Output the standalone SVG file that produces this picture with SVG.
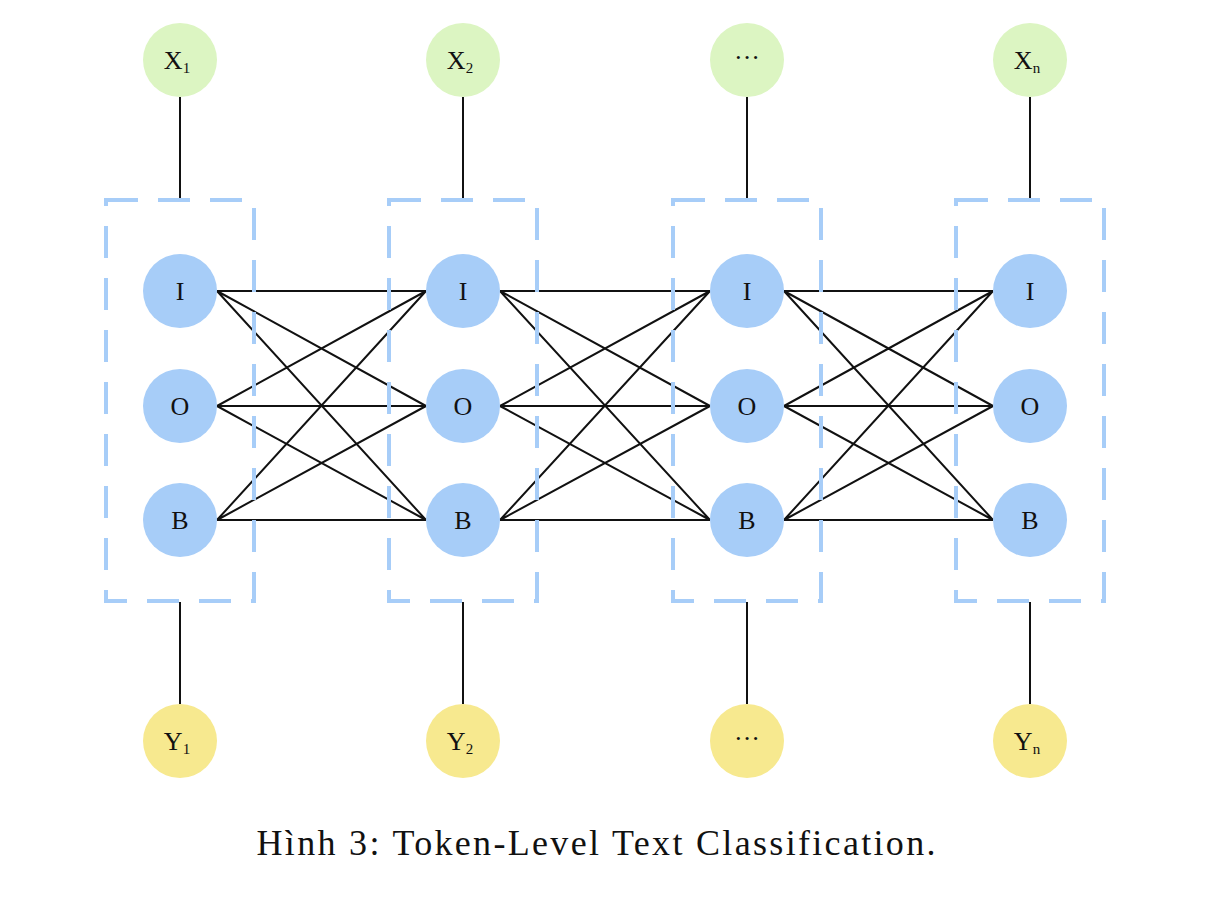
<svg xmlns="http://www.w3.org/2000/svg" width="1206" height="904" viewBox="0 0 1206 904">
<style>
.in{fill:#dcf5c2}
.st{fill:#a7cdf8}
.out{fill:#f7e98f}
.box{fill:none;stroke:#a7cdf8;stroke-width:4;stroke-dasharray:32 20}
.lbl{font-family:"Liberation Serif",serif;font-size:26px;fill:#111;text-anchor:middle}
.sub{font-size:15px}
.ln{stroke:#111;stroke-width:2;fill:none}
.cap{font-family:"Liberation Serif",serif;font-size:36px;fill:#111;text-anchor:middle}
</style>
<rect width="1206" height="904" fill="#fff"/>
<g id="connectors">
<path class="ln" d="M180 97V200M463 97V200M747 97V200M1030 97V200M180 602V704M463 602V704M747 602V704M1030 602V704"/>
<path class="ln" d="M217 291L426 291M217 291L426 406M217 291L426 520M217 406L426 291M217 406L426 406M217 406L426 520M217 520L426 291M217 520L426 406M217 520L426 520"/>
<path class="ln" d="M500 291L710 291M500 291L710 406M500 291L710 520M500 406L710 291M500 406L710 406M500 406L710 520M500 520L710 291M500 520L710 406M500 520L710 520"/>
<path class="ln" d="M784 291L993 291M784 291L993 406M784 291L993 520M784 406L993 291M784 406L993 406M784 406L993 520M784 520L993 291M784 520L993 406M784 520L993 520"/>
</g>
<g id="boxes">
<rect class="box" x="106" y="200" width="148" height="401"/>
<rect class="box" x="389" y="200" width="148" height="401"/>
<rect class="box" x="673" y="200" width="148" height="401"/>
<rect class="box" x="956" y="200" width="148" height="401"/>
</g>
<g id="x1"><circle class="in" cx="180" cy="60" r="37"/><text class="lbl" x="177" y="69">X<tspan class="sub" dy="4">1</tspan></text></g>
<g id="x2"><circle class="in" cx="463" cy="60" r="37"/><text class="lbl" x="460" y="69">X<tspan class="sub" dy="4">2</tspan></text></g>
<g id="xdots"><circle class="in" cx="747" cy="60" r="37"/><text class="lbl" x="747" y="66">···</text></g>
<g id="xn"><circle class="in" cx="1030" cy="60" r="37"/><text class="lbl" x="1027" y="69">X<tspan class="sub" dy="4">n</tspan></text></g>
<g id="i1"><circle class="st" cx="180" cy="291" r="37"/><text class="lbl" x="180" y="300">I</text></g>
<g id="o1"><circle class="st" cx="180" cy="406" r="37"/><text class="lbl" x="180" y="415">O</text></g>
<g id="b1"><circle class="st" cx="180" cy="520" r="37"/><text class="lbl" x="180" y="529">B</text></g>
<g id="i2"><circle class="st" cx="463" cy="291" r="37"/><text class="lbl" x="463" y="300">I</text></g>
<g id="o2"><circle class="st" cx="463" cy="406" r="37"/><text class="lbl" x="463" y="415">O</text></g>
<g id="b2"><circle class="st" cx="463" cy="520" r="37"/><text class="lbl" x="463" y="529">B</text></g>
<g id="i3"><circle class="st" cx="747" cy="291" r="37"/><text class="lbl" x="747" y="300">I</text></g>
<g id="o3"><circle class="st" cx="747" cy="406" r="37"/><text class="lbl" x="747" y="415">O</text></g>
<g id="b3"><circle class="st" cx="747" cy="520" r="37"/><text class="lbl" x="747" y="529">B</text></g>
<g id="i4"><circle class="st" cx="1030" cy="291" r="37"/><text class="lbl" x="1030" y="300">I</text></g>
<g id="o4"><circle class="st" cx="1030" cy="406" r="37"/><text class="lbl" x="1030" y="415">O</text></g>
<g id="b4"><circle class="st" cx="1030" cy="520" r="37"/><text class="lbl" x="1030" y="529">B</text></g>
<g id="y1"><circle class="out" cx="180" cy="741" r="37"/><text class="lbl" x="177" y="750">Y<tspan class="sub" dy="4">1</tspan></text></g>
<g id="y2"><circle class="out" cx="463" cy="741" r="37"/><text class="lbl" x="460" y="750">Y<tspan class="sub" dy="4">2</tspan></text></g>
<g id="ydots"><circle class="out" cx="747" cy="741" r="37"/><text class="lbl" x="747" y="747">···</text></g>
<g id="yn"><circle class="out" cx="1030" cy="741" r="37"/><text class="lbl" x="1027" y="750">Y<tspan class="sub" dy="4">n</tspan></text></g>
<text class="cap" x="596" y="855" textLength="679" lengthAdjust="spacing">Hình 3: Token-Level Text Classification.</text>
</svg>
